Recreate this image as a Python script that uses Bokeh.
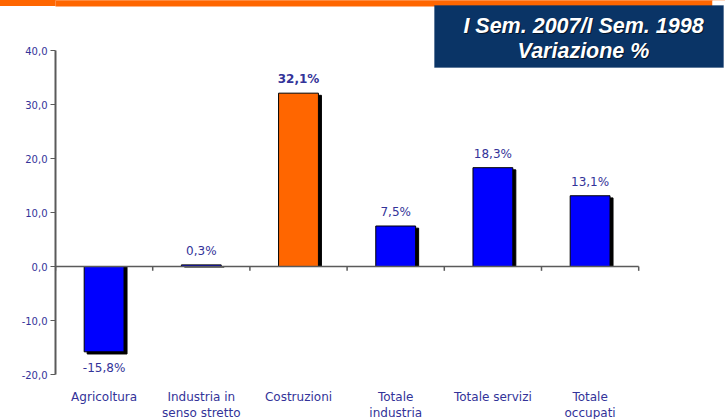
from bokeh.plotting import figure
from bokeh.models import Range1d, FixedTicker, BoxAnnotation, Label
from bokeh.core.properties import value
from bokeh.embed import file_html
from bokeh.resources import INLINE

# ---- data ----
categories = ["Agricoltura", "Industria in\nsenso stretto", "Costruzioni",
              "Totale\nindustria", "Totale servizi", "Totale\noccupati"]
values = [-15.8, 0.3, 32.1, 7.5, 18.3, 13.1]
bar_colors = ["#0000FF", "#0000FF", "#FF6600", "#0000FF", "#0000FF", "#0000FF"]
label_styles = ["normal", "normal", "bold", "normal", "normal", "normal"]
y_ticks = [-20, -10, 0, 10, 20, 30, 40]
title_lines = ["I Sem. 2007/I Sem. 1998", "Variazione %"]

# ---- layout constants (pixels) ----
W, H = 725, 419
LEFT = 55
CAT_PX = 97.2
UNIT_PX = 5.4
Y40_PX = 50
x_end = (W - LEFT) / CAT_PX
y_top = 40 + Y40_PX / UNIT_PX
y_bot = y_top - H / UNIT_PX

def xd(px):
    return (px - LEFT) / CAT_PX

def yd(py):
    return y_top - py / UNIT_PX

TXT = "#333399"
AXC = "#5a5a5a"

p = figure(width=W, height=H, output_backend="svg", toolbar_location=None,
           x_range=Range1d(0, x_end), y_range=Range1d(y_bot, y_top),
           x_axis_location=None, min_border_left=LEFT, min_border_right=0,
           min_border_top=0, min_border_bottom=0)
p.outline_line_color = None
p.grid.visible = False
p.background_fill_color = "white"
p.border_fill_color = None
# orange header band behind the (transparent) border area
p.styles = {"background": "linear-gradient(to bottom, #FF6600 0px, #FF6600 6px, #FFFFFF 6px, #FFFFFF 100%)"}

# y axis
ya = p.yaxis[0]
ya.ticker = FixedTicker(ticks=y_ticks)
ya.major_label_overrides = {t: f"{t:.1f}".replace(".", ",") for t in y_ticks}
ya.bounds = (min(y_ticks), max(y_ticks))
ya.axis_line_color = AXC
ya.axis_line_width = 2
ya.major_tick_line_color = AXC
ya.major_tick_out = 5
ya.major_tick_in = 0
ya.minor_tick_line_color = None
ya.major_label_text_color = TXT
ya.major_label_text_font = "DejaVu Sans"
ya.major_label_text_font_size = "10px"
ya.major_label_standoff = 3

n = len(categories)
xs = [i + 0.5 for i in range(n)]

# orange band (frame part) & title box
p.add_layout(BoxAnnotation(left=xd(-10), right=xd(712), top=yd(-5), bottom=yd(6),
                           fill_color="#FF6600", fill_alpha=1, line_color=None, level="underlay"))
p.add_layout(BoxAnnotation(left=xd(712), right=xd(730), top=yd(-5), bottom=yd(6),
                           fill_color="white", fill_alpha=1, line_color=None, level="underlay"))
p.add_layout(BoxAnnotation(left=xd(434), right=xd(723), top=yd(5), bottom=yd(67),
                           fill_color="#0A3466", fill_alpha=1, line_color="#0A3466", level="overlay"))
for line, py in zip(title_lines, [25, 50]):
    for dx, dy, col, alpha in [(1, 1, "#000000", 0.6), (0, 0, "white", 1.0)]:
        p.add_layout(Label(x=xd(583), y=yd(py), text=line, text_align="center",
                           text_baseline="middle", x_offset=dx, y_offset=-dy,
                           text_color=col, text_alpha=alpha,
                           text_font="Liberation Sans", text_font_style="bold italic",
                           text_font_size="21.5px", level="overlay"))

# shadows
sh_top = [v - 0.4 if v > 0 else 0 for v in values]
sh_bot = [0 if v > 0 else v - 0.4 for v in values]
p.vbar(x=[x + 3 / CAT_PX for x in xs], width=0.41, top=sh_top, bottom=sh_bot,
       fill_color="black", line_color="black")
# bars
p.vbar(x=xs, width=0.41, top=values, bottom=0, fill_color=bar_colors,
       line_color="black", line_width=1)

# zero axis line + ticks at category boundaries
bounds_x = list(range(n + 1))
p.segment(x0=[0], y0=[0], x1=[n], y1=[0], line_color=AXC, line_width=1.5)
p.segment(x0=bounds_x, y0=[0] * len(bounds_x), x1=bounds_x, y1=[-0.8] * len(bounds_x),
          line_color=AXC, line_width=1.5)

# value labels
pos = [(x, v, f"{v:.1f}".replace(".", ",") + "%", s) for x, v, s in zip(xs, values, label_styles) if v >= 0]
neg = [(x, v, f"{v:.1f}".replace(".", ",") + "%", s) for x, v, s in zip(xs, values, label_styles) if v < 0]
for group, off in [(pos, -14), (neg, 16)]:
    if group:
        p.text(x=[g[0] for g in group], y=[g[1] for g in group], text=[g[2] for g in group],
               text_font_style=[g[3] for g in group], y_offset=off,
               text_align="center", text_baseline="middle", text_color=TXT,
               text_font=value("DejaVu Sans"), text_font_size="12px")

# category labels
p.text(x=xs, y=[min(y_ticks)] * n, text=categories, y_offset=15, text_align="center",
       text_baseline="top", text_color=TXT, text_font=value("DejaVu Sans"),
       text_font_size="12px", text_line_height=1.2)

open("out.html", "w").write(file_html(p, INLINE))
